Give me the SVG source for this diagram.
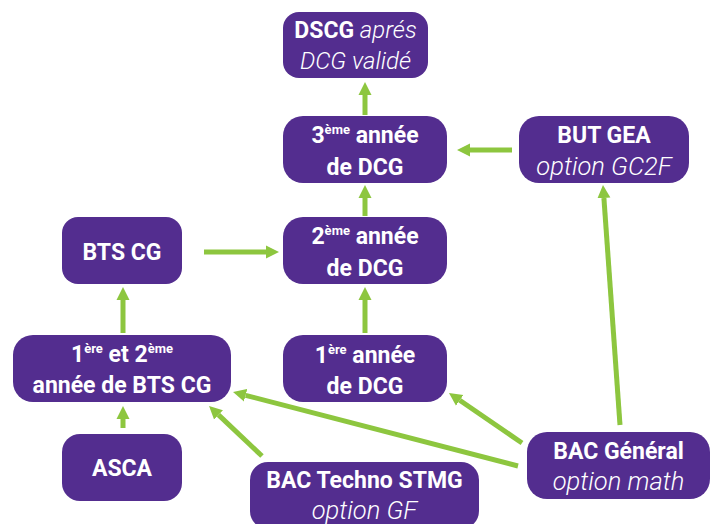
<svg xmlns="http://www.w3.org/2000/svg" width="718" height="524" viewBox="0 0 718 524">
<style>
.box{fill:#532d8f}
.t{font-family:Roboto,"Liberation Sans",sans-serif;font-size:23px;font-weight:700;fill:#ffffff;text-anchor:middle}
.i{font-weight:300;font-style:italic}
.o{font-size:25.5px}
.sup{font-size:13px}
.c line{stroke:#8dc63f;stroke-width:5;marker-end:url(#ah)}
</style>
<defs>
<marker id="ah" markerUnits="userSpaceOnUse" markerWidth="14" markerHeight="14" refX="0" refY="6.5" orient="auto" viewBox="0 0 14 13">
<path d="M0,0 L13,6.5 L0,13 z" fill="#8dc63f"/>
</marker>
</defs>
<rect width="718" height="524" fill="#ffffff"/>
<g class="c" id="connectors">
<line x1="365" y1="115" x2="365" y2="95"/>
<line x1="365" y1="216" x2="365" y2="198"/>
<line x1="365" y1="333" x2="365" y2="300"/>
<line x1="512" y1="150" x2="470" y2="150"/>
<line x1="204" y1="252" x2="266" y2="252"/>
<line x1="123" y1="333" x2="123" y2="300"/>
<line x1="123" y1="428" x2="123" y2="419"/>
<line x1="620" y1="425" x2="603.9" y2="198"/>
<line x1="522" y1="443" x2="459.7" y2="400.3"/>
<line x1="518" y1="466" x2="245.6" y2="395.3"/>
<line x1="262" y1="456" x2="218.5" y2="414.9"/>
</g>
<g id="dscg">
<rect class="box" x="283" y="12" width="145" height="66" rx="16"/>
<text class="t" x="355.5" y="38">DSCG <tspan class="i" style="font-size:24px">aprés</tspan></text>
<text class="t i" x="355.5" y="69" style="font-size:24px">DCG validé</text>
</g>
<g id="dcg3">
<rect class="box" x="283" y="116" width="164" height="67" rx="20"/>
<text class="t" x="365" y="143">3<tspan class="sup" dy="-9">ème</tspan><tspan dy="9"> année</tspan></text>
<text class="t" x="365" y="175">de DCG</text>
</g>
<g id="butgea">
<rect class="box" x="519" y="116" width="170" height="67" rx="20"/>
<text class="t" x="604" y="143">BUT GEA</text>
<text class="t i o" x="604" y="175">option GC2F</text>
</g>
<g id="btscg">
<rect class="box" x="62" y="217" width="120" height="67" rx="16"/>
<text class="t" x="122" y="260">BTS CG</text>
</g>
<g id="dcg2">
<rect class="box" x="283" y="217" width="164" height="67" rx="20"/>
<text class="t" x="365" y="244">2<tspan class="sup" dy="-9">ème</tspan><tspan dy="9"> année</tspan></text>
<text class="t" x="365" y="276">de DCG</text>
</g>
<g id="bts12">
<rect class="box" x="13" y="335" width="218" height="67" rx="20"/>
<text class="t" x="122" y="362">1<tspan class="sup" dy="-9">ère</tspan><tspan dy="9"> et 2</tspan><tspan class="sup" dy="-9">ème</tspan></text>
<text class="t" x="122" y="393">année de BTS CG</text>
</g>
<g id="dcg1">
<rect class="box" x="283" y="335" width="164" height="67" rx="20"/>
<text class="t" x="365" y="363">1<tspan class="sup" dy="-9">ère</tspan><tspan dy="9"> année</tspan></text>
<text class="t" x="365" y="394">de DCG</text>
</g>
<g id="asca">
<rect class="box" x="62" y="434" width="120" height="67" rx="18"/>
<text class="t" x="122" y="476">ASCA</text>
</g>
<g id="bactechno">
<rect class="box" x="250" y="462" width="229" height="67" rx="18"/>
<text class="t" x="364.5" y="488">BAC Techno STMG</text>
<text class="t i o" x="364.5" y="519">option GF</text>
</g>
<g id="bacgeneral">
<rect class="box" x="527" y="432" width="183" height="67" rx="20"/>
<text class="t" x="618.5" y="459">BAC Général</text>
<text class="t i o" x="618.5" y="490">option math</text>
</g>
</svg>
